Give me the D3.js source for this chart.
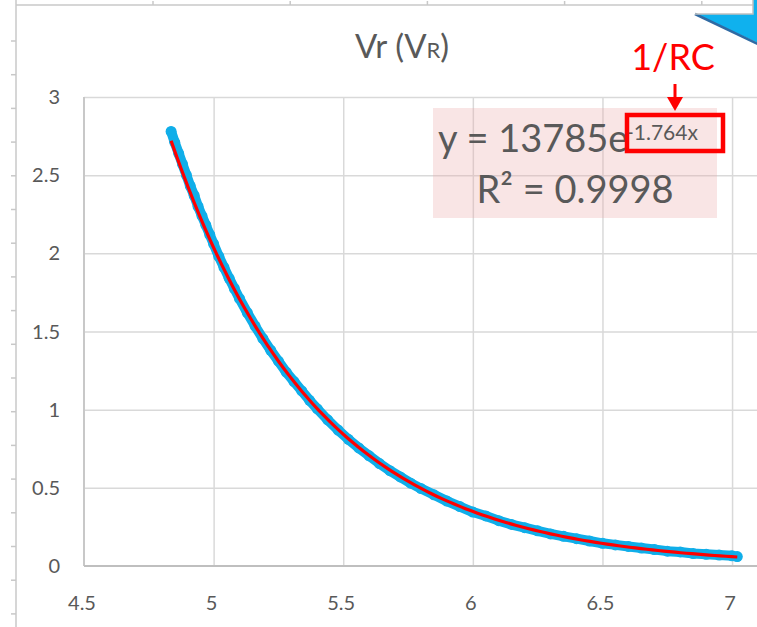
<!DOCTYPE html>
<html>
<head>
<meta charset="utf-8">
<script src="https://cdn.jsdelivr.net/npm/d3@7"></script>
<style>
  html, body { margin: 0; padding: 0; background: #ffffff; }
  svg { display: block; font-family: Lato, 'Open Sans', sans-serif; }
</style>
</head>
<body>
<div id="chart"></div>
<script>
'use strict';

const timeVals = [4.836, 4.85, 4.865, 4.88, 4.895, 4.91, 4.925, 4.94, 4.955, 4.97, 4.985, 5.00,
                  5.02, 5.04, 5.06, 5.08, 5.10, 5.13, 5.16, 5.19, 5.22, 5.25, 5.28, 5.31, 5.34,
                  5.37, 5.40, 5.44, 5.48, 5.52, 5.56, 5.60, 5.64, 5.68, 5.72, 5.76, 5.80, 5.85,
                  5.90, 5.95, 6.00, 6.05, 6.10, 6.15, 6.20, 6.25, 6.30, 6.35, 6.40, 6.45, 6.50,
                  6.55, 6.60, 6.65, 6.70, 6.75, 6.80, 6.85, 6.90, 6.95, 7.00, 7.02];
const vrVals = [2.78, 2.71, 2.64, 2.57, 2.50, 2.43, 2.37, 2.30, 2.24, 2.18, 2.12, 2.06,
                1.98, 1.91, 1.84, 1.775, 1.71, 1.62, 1.535, 1.455, 1.38, 1.31, 1.24, 1.18, 1.12,
                1.06, 1.005, 0.935, 0.87, 0.81, 0.755, 0.705, 0.655, 0.61, 0.57, 0.53, 0.495, 0.455,
                0.415, 0.38, 0.345, 0.32, 0.29, 0.265, 0.245, 0.225, 0.205, 0.19, 0.175, 0.16, 0.145,
                0.135, 0.125, 0.115, 0.105, 0.095, 0.09, 0.08, 0.075, 0.07, 0.065, 0.06];

// exponential trendline as printed on the chart
const trendA = 13785;
const trendK = -1.764;
const trendR2 = '0.9998';

const xTicks = [4.5, 5, 5.5, 6, 6.5, 7];
const yTicks = [0, 0.5, 1, 1.5, 2, 2.5, 3];

const width = 757,
      height = 627;

const blue = '#10aee9',
      red = '#ff0000',
      grey = '#595959',
      gridColor = '#d9d9d9';

const svg = d3.select('#chart')
              .append('svg')
              .attr('width', width)
              .attr('height', height);

const x = d3.scaleLinear().domain([4.5, 7.1]).range([84, 758]);
const y = d3.scaleLinear().domain([0, 3]).range([566, 97]);

// page rulers around the screenshot
let ruler = svg.append('g').attr('stroke', '#c8c8c8').attr('stroke-width', 1.5);
ruler.append('line').attr('x1', 16).attr('x2', 16).attr('y1', 0).attr('y2', height);
for (let ty = 41; ty < height; ty += 33.7) {
    ruler.append('line').attr('x1', 11).attr('x2', 16).attr('y1', ty).attr('y2', ty);
}
ruler.append('line').attr('x1', 16).attr('x2', 753).attr('y1', 5).attr('y2', 5);
for (let tx = 153; tx < 753; tx += 137.2) {
    ruler.append('line').attr('x1', tx).attr('x2', tx).attr('y1', 1).attr('y2', 5);
}

// blue callout corner at top right
svg.append('polygon')
   .attr('points', '695,14 753,14 753,0 760,0 760,44')
   .attr('fill', '#0fb1ee');
svg.append('line')
   .attr('x1', 695).attr('y1', 14).attr('x2', 760).attr('y2', 45)
   .attr('stroke', '#2f6aa3').attr('stroke-width', 2.5);
svg.append('polyline')
   .attr('points', '695,14 753,14 753,0')
   .attr('fill', 'none').attr('stroke', '#c0c0c0').attr('stroke-width', 1.5);

// gridlines
svg.append('g')
   .attr('transform', 'translate(0,566)')
   .call(d3.axisBottom(x).tickValues(xTicks.slice(1)).tickSize(-(566 - 97)).tickFormat(''))
   .call(g => g.select('.domain').remove())
   .selectAll('line').attr('stroke', gridColor).attr('stroke-width', 1.5);
svg.append('g')
   .attr('transform', 'translate(84,0)')
   .call(d3.axisLeft(y).tickValues(yTicks.slice(1)).tickSize(-(width - 84)).tickFormat(''))
   .call(g => g.select('.domain').remove())
   .selectAll('line').attr('stroke', gridColor).attr('stroke-width', 1.5);

// axis lines
svg.append('line').attr('x1', 84).attr('x2', 84).attr('y1', 97).attr('y2', 566)
   .attr('stroke', '#c8c8c8').attr('stroke-width', 2);
svg.append('line').attr('x1', 84).attr('x2', width).attr('y1', 566).attr('y2', 566)
   .attr('stroke', '#bfbfbf').attr('stroke-width', 2);

// tick labels
svg.append('g').selectAll('text')
   .data(yTicks).join('text')
   .attr('x', 60).attr('y', d => y(d) + 7)
   .attr('text-anchor', 'end')
   .attr('font-size', 20).attr('fill', grey)
   .text(d => d);
svg.append('g').selectAll('text')
   .data(xTicks).join('text')
   .attr('x', d => x(d) - 2).attr('y', 610)
   .attr('text-anchor', 'middle')
   .attr('font-size', 20).attr('fill', grey)
   .text(d => d);

// title
let title = svg.append('text')
               .attr('x', 402).attr('y', 58)
               .attr('text-anchor', 'middle')
               .attr('font-size', 33).attr('fill', grey);
title.append('tspan').text('Vr (V');
title.append('tspan').attr('font-size', 22).text('R');
title.append('tspan').text(')');

// trendline label box
svg.append('rect')
   .attr('x', 433).attr('y', 108).attr('width', 284).attr('height', 110)
   .attr('fill', 'rgba(236,170,170,0.3)');

// data series
let pts = timeVals.map((t, i) => [t, vrVals[i]]);
let line = d3.line().x(d => x(d[0])).y(d => y(d[1]));
svg.append('path')
   .datum(pts)
   .attr('d', line)
   .attr('fill', 'none')
   .attr('stroke', blue)
   .attr('stroke-width', 10)
   .attr('stroke-linejoin', 'round')
   .attr('stroke-linecap', 'round');
svg.append('g').selectAll('circle')
   .data(pts).join('circle')
   .attr('cx', d => x(d[0])).attr('cy', d => y(d[1]))
   .attr('r', 5.5).attr('fill', blue);

// exponential trendline across the data range
let tMin = d3.min(timeVals), tMax = d3.max(timeVals);
let trendPts = d3.range(0, 101).map(i => {
    let t = tMin + (tMax - tMin) * i / 100;
    return [t, trendA * Math.exp(trendK * t)];
});
svg.append('path')
   .datum(trendPts)
   .attr('d', line)
   .attr('fill', 'none')
   .attr('stroke', red)
   .attr('stroke-width', 3.2);

// equation text
svg.append('text')
   .attr('x', 438).attr('y', 152)
   .attr('font-size', 38).attr('fill', grey)
   .text('y = ' + trendA + 'e');
svg.append('text')
   .attr('x', 626).attr('y', 140)
   .attr('font-size', 21).attr('fill', grey)
   .text(trendK + 'x');
let r2 = svg.append('text')
            .attr('x', 575).attr('y', 203)
            .attr('text-anchor', 'middle')
            .attr('font-size', 38).attr('fill', grey);
r2.append('tspan').text('R² = ' + trendR2);

// red highlight on exponent
svg.append('rect')
   .attr('x', 627).attr('y', 115).attr('width', 96).attr('height', 36)
   .attr('fill', 'none').attr('stroke', red).attr('stroke-width', 4.5);
svg.append('text')
   .attr('x', 673).attr('y', 70)
   .attr('text-anchor', 'middle')
   .attr('font-size', 36).attr('fill', red)
   .text('1/RC');
svg.append('line')
   .attr('x1', 675).attr('x2', 675).attr('y1', 84).attr('y2', 99)
   .attr('stroke', red).attr('stroke-width', 3);
svg.append('polygon')
   .attr('points', '667,97 683,97 675,111')
   .attr('fill', red);
</script>
</body>
</html>
